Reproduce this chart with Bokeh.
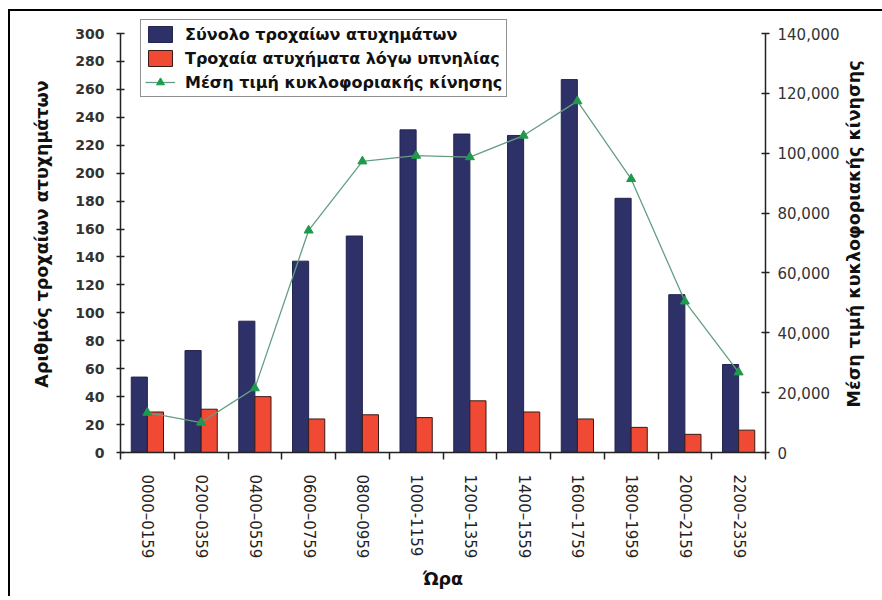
import math
from bokeh.plotting import figure
from bokeh.layouts import row
from bokeh.core.properties import value
from bokeh.models import (Range1d, LinearAxis, FixedTicker, NumeralTickFormatter,
                          Legend, LegendItem, ColumnDataSource)
from bokeh.transform import dodge
from bokeh.embed import file_html
from bokeh.resources import INLINE

hours = ["0000–0159", "0200–0359", "0400–0559", "0600–0759", "0800–0959", "1000-1159",
         "1200–1359", "1400–1559", "1600–1759", "1800–1959", "2000–2159", "2200–2359"]
total_accidents = [54, 73, 94, 137, 155, 231, 228, 227, 267, 182, 113, 63]
sleep_accidents = [29, 31, 40, 24, 27, 25, 37, 29, 24, 18, 13, 16]
traffic_mean = [13300, 10000, 21500, 74200, 97300, 99200, 98700, 105900, 117400, 91400, 50500, 26800]

left_ticks = list(range(0, 301, 20))
right_ticks = list(range(0, 140001, 20000))
LEFT_MAX = 300
RIGHT_MAX = 140000
HEADROOM = 437 / 419  # frame extends above the axes' top so the legend fits
right_title = "Μέση τιμή κυκλοφοριακής κίνησης"

FONT = "DejaVu Sans"
idx = list(range(len(hours)))
src = ColumnDataSource(dict(
    x=idx,
    total=total_accidents,
    sleep=sleep_accidents,
    traffic=traffic_mean,
))

p = figure(width=832, height=585, output_backend="svg", toolbar_location=None,
           x_range=Range1d(-0.5, len(hours) - 0.5), y_range=Range1d(0, LEFT_MAX * HEADROOM),
           min_border_left=110, min_border_right=77, min_border_top=4, min_border_bottom=144,
           x_axis_type=None, y_axis_type=None)
p.outline_line_color = None
p.xgrid.visible = False
p.ygrid.visible = False
p.extra_y_ranges = {"traffic": Range1d(0, RIGHT_MAX * HEADROOM)}

r1 = p.vbar(x=dodge("x", -0.15, range=p.x_range), top="total", width=0.3, source=src,
            fill_color="#2E3068", line_color="#23254f", line_width=1)
r2 = p.vbar(x=dodge("x", 0.15, range=p.x_range), top="sleep", width=0.3, source=src,
            fill_color="#F04A35", line_color="#3a1a14", line_width=1)
r3l = p.line(x="x", y="traffic", source=src, y_range_name="traffic",
             line_color="#649E82", line_width=1.3)
r3m = p.scatter(x="x", y="traffic", source=src, y_range_name="traffic", marker="triangle",
                size=9, fill_color="#1E9A4C", line_color="#1E9A4C")

# x axis
xaxis = LinearAxis(ticker=FixedTicker(ticks=idx, minor_ticks=[i - 0.5 for i in range(len(hours) + 1)]))
xaxis.major_label_overrides = {i: h for i, h in enumerate(hours)}
xaxis.major_label_orientation = "vertical"
xaxis.major_tick_in = 0
xaxis.major_tick_out = 0
xaxis.minor_tick_in = 0
xaxis.minor_tick_out = 7
xaxis.minor_tick_line_color = "#222222"
xaxis.minor_tick_line_width = 1.5
xaxis.axis_line_color = "#222222"
xaxis.axis_line_width = 1.5
xaxis.major_label_standoff = 15
xaxis.major_label_text_font = FONT
xaxis.major_label_text_font_size = "15px"
xaxis.major_label_text_color = "#222222"
xaxis.axis_label = "Ώρα"
xaxis.axis_label_text_font = FONT
xaxis.axis_label_text_font_size = "17.5px"
xaxis.axis_label_text_font_style = "bold"
xaxis.axis_label_text_color = "#111111"
xaxis.axis_label_standoff = 8
p.add_layout(xaxis, "below")

# left axis
yaxis = LinearAxis(ticker=FixedTicker(ticks=left_ticks), bounds=(0, LEFT_MAX))
yaxis.major_tick_in = 4
yaxis.major_tick_out = 4
yaxis.minor_tick_line_color = None
yaxis.axis_line_color = "#222222"
yaxis.axis_line_width = 1.5
yaxis.major_tick_line_color = "#222222"
yaxis.major_tick_line_width = 1.5
yaxis.major_label_standoff = 12
yaxis.major_label_text_font = FONT
yaxis.major_label_text_font_size = "14px"
yaxis.major_label_text_font_style = "bold"
yaxis.major_label_text_color = "#333333"
yaxis.axis_label = "Αριθμός τροχαίων ατυχημάτων"
yaxis.axis_label_text_font = FONT
yaxis.axis_label_text_font_size = "17.5px"
yaxis.axis_label_text_font_style = "bold"
yaxis.axis_label_text_color = "#111111"
yaxis.axis_label_standoff = 20
p.add_layout(yaxis, "left")

# right axis
raxis = LinearAxis(y_range_name="traffic", ticker=FixedTicker(ticks=right_ticks),
                   formatter=NumeralTickFormatter(format="0,0"), bounds=(0, RIGHT_MAX))
raxis.major_tick_in = 4
raxis.major_tick_out = 4
raxis.minor_tick_line_color = None
raxis.axis_line_color = "#222222"
raxis.axis_line_width = 1.5
raxis.major_tick_line_color = "#222222"
raxis.major_tick_line_width = 1.5
raxis.major_label_standoff = 8
raxis.major_label_text_font = FONT
raxis.major_label_text_font_size = "15px"
raxis.major_label_text_color = "#333333"
p.add_layout(raxis, "right")

legend = Legend(items=[
    LegendItem(label="Σύνολο τροχαίων ατυχημάτων", renderers=[r1]),
    LegendItem(label="Τροχαία ατυχήματα λόγω υπνηλίας", renderers=[r2]),
    LegendItem(label="Μέση τιμή κυκλοφοριακής κίνησης", renderers=[r3l, r3m]),
], location=(20, 355))
legend.border_line_color = "#222222"
legend.border_line_width = 1.2
legend.background_fill_alpha = 1
legend.label_text_font = FONT
legend.label_text_font_size = "16px"
legend.label_text_font_style = "bold"
legend.label_text_color = "#111111"
legend.glyph_width = 30
legend.glyph_height = 20
legend.label_height = 20
legend.spacing = 4
legend.padding = 4
legend.margin = 0
legend.label_standoff = 10
p.add_layout(legend, "center")

# narrow strip holding the right axis title (reads bottom-to-top like the reference)
p2 = figure(width=40, height=585, output_backend="svg", toolbar_location=None,
            x_range=Range1d(0, 40), y_range=Range1d(0, 1),
            min_border_left=0, min_border_right=0, min_border_top=4, min_border_bottom=144,
            x_axis_type=None, y_axis_type=None)
p2.outline_line_color = None
p2.xgrid.visible = False
p2.ygrid.visible = False
p2.text(x=[11], y=[0.5], text=[right_title], angle=math.pi / 2,
        text_align="center", text_baseline="middle",
        text_font=value(FONT), text_font_size=value("17.5px"),
        text_font_style="bold", text_color="#111111")

layout = row(p, p2, styles={"margin-left": "8px", "margin-top": "9px",
                            "border-left": "2px solid black", "border-top": "2px solid black"})

open("out.html", "w").write(file_html(layout, INLINE))
